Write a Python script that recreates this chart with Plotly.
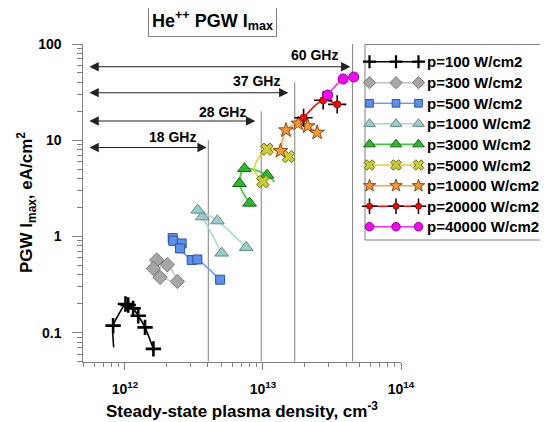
import numpy as np
import plotly.graph_objects as go

W, H = 548, 422
OFF = 8  # page body margin offset of the rendered figure
FONT = "Liberation Sans, Arial, sans-serif"

# ---------------- data ----------------
series_names = ["p=100 W/cm2", "p=300 W/cm2", "p=500 W/cm2", "p=1000 W/cm2",
                "p=3000 W/cm2", "p=5000 W/cm2", "p=10000 W/cm2", "p=20000 W/cm2",
                "p=40000 W/cm2"]

p100_x = [8.22e11, 1.01e12, 1.057e12, 1.148e12, 1.25e12, 1.40e12, 1.61e12]
p100_y = [0.1185, 0.199, 0.194, 0.179, 0.150, 0.1137, 0.068]
p100_head_x = [8.3e11]
p100_head_y = [0.0706]

p300_x = [1.80e12, 2.40e12, 2.03e12, 1.70e12, 1.61e12]
p300_y = [0.376, 0.341, 0.508, 0.569, 0.466]

p500_x = [2.22e12, 2.24e12, 2.58e12, 2.51e12, 3.05e12, 3.35e12, 4.90e12]
p500_y = [0.962, 0.902, 0.846, 0.751, 0.569, 0.577, 0.356]

p1000_x = [5.03e12, 3.64e12, 3.37e12, 4.68e12, 7.56e12]
p1000_y = [0.673, 1.60, 1.88, 1.455, 0.769]

p3000_x = [8.0e12, 6.76e12, 7.35e12, 1.07e13]
p3000_y = [2.22, 3.55, 5.07, 4.34]
p3000_tail_x = [1.21e13]
p3000_tail_y = [3.69]

p5000_x = [1.0e13, 1.07e13, 1.53e13]
p5000_y = [3.72, 8.07, 6.76]
p5000_bend_x = [8.65e12]
p5000_bend_y = [5.0]

p10000_x = [1.34e13, 1.47e13, 1.80e13, 2.11e13, 2.47e13]
p10000_y = [7.74, 12.7, 14.9, 14.0, 12.0]

p20000_x = [1.97e13, 2.73e13, 3.45e13]
p20000_y = [17.1, 26.0, 23.6]

p40000_x = [2.94e13, 3.81e13, 4.55e13]
p40000_y = [29.5, 43.3, 45.4]

# cutoff (critical) densities and their frequency labels
freq_labels = ["18 GHz", "28 GHz", "37 GHz", "60 GHz"]
crit_density = [4.02e12, 9.72e12, 1.70e13, 4.46e13]
crit_line_top = [10, 20, 40, 100]
arrow_left = [5.4e11, 5.4e11, 5.4e11, 5.4e11]
arrow_right = [3.92e12, 8.8e12, 1.53e13, 4.3e13]
arrow_y = [8.4, 15.85, 31.2, 58]
label_x = [2.23e12, 5.12e12, 9.04e12, 2.36e13]
label_y = [10.8, 19.8, 41.2, 76.7]

x_tick_vals = [1e12, 1e13, 1e14]
x_tick_text = ["10<sup>12</sup>", "10<sup>13</sup>", "10<sup>14</sup>"]
y_tick_vals = [0.1, 1, 10, 100]
y_tick_text = ["0.1", "1", "10", "100"]

# ---------------- styles ----------------
styles = [
    dict(line="#000000", lw=1.6, sym="cross-thin", size=11, fill="#000000", edge="#000000", ew=2.6, sm=0.5),
    dict(line="#c4c4c4", lw=1.5, sym="diamond", size=11, fill="#a6a6a6", edge="#777777", ew=1, sm=0.8),
    dict(line="#6d9ef2", lw=1.6, sym="square", size=9, fill="#5b8ff0", edge="#2f5597", ew=1, sm=0.5),
    dict(line="#a9d6d6", lw=1.6, sym="triangle-up", size=12, fill="#9ccccc", edge="#5c8a8a", ew=1, sm=0.9),
    dict(line="#33cc33", lw=1.6, sym="triangle-up", size=12, fill="#2db82d", edge="#146614", ew=1, sm=0.9),
    dict(line="#d6d633", lw=1.6, sym="x", size=11, fill="#cccc33", edge="#6e6e14", ew=1, sm=0.9),
    dict(line="#ffa04d", lw=1.6, sym="star", size=11, fill="#ff9933", edge="#8b4513", ew=1, sm=0.8),
    dict(line="#ff0000", lw=1.6, sym="circle", size=7, fill="#ff0000", edge="#990000", ew=1, sm=0.9),
    dict(line="#ff33e0", lw=1.6, sym="circle", size=10, fill="#ff00ff", edge="#8b008b", ew=1, sm=0.9),
]

fig = go.Figure()

# critical-density vertical lines
vx, vy = [], []
for nc, top in zip(crit_density, crit_line_top):
    vx += [nc, nc, None]
    vy += [0.05, top, None]
fig.add_trace(go.Scatter(x=vx, y=vy, mode="lines", line=dict(color="#808080", width=1),
                         hoverinfo="skip", showlegend=False))

line_paths = [
    (p100_head_x + p100_x, p100_head_y + p100_y),
    (p300_x, p300_y),
    (p500_x, p500_y),
    (p1000_x, p1000_y),
    (p3000_x + p3000_tail_x, p3000_y + p3000_tail_y),
    (p5000_x[:1] + p5000_bend_x + p5000_x[1:], p5000_y[:1] + p5000_bend_y + p5000_y[1:]),
    (p10000_x, p10000_y),
    (p20000_x, p20000_y),
    (p40000_x, p40000_y),
]
marker_pts = [(p100_x, p100_y), (p300_x, p300_y), (p500_x, p500_y), (p1000_x, p1000_y),
              (p3000_x, p3000_y), (p5000_x, p5000_y), (p10000_x, p10000_y),
              (p20000_x, p20000_y), (p40000_x, p40000_y)]

for i, (name, st) in enumerate(zip(series_names, styles)):
    lx, ly = line_paths[i]
    fig.add_trace(go.Scatter(x=lx, y=ly, mode="lines",
                             line=dict(color=st["line"], width=st["lw"], shape="spline",
                                       smoothing=st["sm"]),
                             showlegend=False, hoverinfo="skip"))
    mx, my = marker_pts[i]
    if i == 7:
        fig.add_trace(go.Scatter(x=mx, y=my, mode="markers", showlegend=False,
                                 marker=dict(symbol="cross-thin", size=13,
                                             line=dict(color="#000000", width=1.6))))
    fig.add_trace(go.Scatter(x=mx, y=my, mode="markers", name=name, showlegend=False,
                             marker=dict(symbol=st["sym"], size=st["size"], color=st["fill"],
                                         line=dict(color=st["edge"], width=st["ew"]))))

# ---------------- custom legend (pixel overlay axes, screenshot coordinates) ----------------
leg_sample_x = [369.5, 396, 418.5]
leg_rows_y = [61.7, 82.7, 103.3, 123.8, 144.3, 165, 185.7, 206.2, 226.7]
for i, (name, st) in enumerate(zip(series_names, styles)):
    yy = [leg_rows_y[i]] * 3
    fig.add_trace(go.Scatter(x=leg_sample_x, y=yy, xaxis="x2", yaxis="y2", mode="lines",
                             line=dict(color=st["line"], width=st["lw"]), showlegend=False,
                             hoverinfo="skip"))
    if i == 7:
        fig.add_trace(go.Scatter(x=leg_sample_x, y=yy, xaxis="x2", yaxis="y2", mode="markers",
                                 marker=dict(symbol="cross-thin", size=11,
                                             line=dict(color="#000000", width=1.5)),
                                 showlegend=False, hoverinfo="skip"))
    fig.add_trace(go.Scatter(x=leg_sample_x, y=yy, xaxis="x2", yaxis="y2", mode="markers",
                             marker=dict(symbol=st["sym"], size=st["size"] * 0.85, color=st["fill"],
                                         line=dict(color=st["edge"], width=min(st["ew"], 2.2))),
                             showlegend=False, hoverinfo="skip"))

annotations = []
for i, name in enumerate(series_names):
    annotations.append(dict(x=425, y=leg_rows_y[i], xref="x2", yref="y2", text=name,
                            showarrow=False, xanchor="left", yanchor="middle",
                            font=dict(family=FONT, size=15, color="#000000", weight="bold")))

# arrows + frequency labels
for i in range(len(freq_labels)):
    annotations.append(dict(x=np.log10(arrow_right[i]), y=np.log10(arrow_y[i]),
                            ax=np.log10(arrow_left[i]), ay=np.log10(arrow_y[i]),
                            xref="x", yref="y", axref="x", ayref="y", text="",
                            showarrow=True, arrowside="end+start", arrowhead=2, startarrowhead=2,
                            arrowsize=1.7, startarrowsize=1.7, arrowwidth=1.1,
                            arrowcolor="#222222", standoff=0, startstandoff=0))
    annotations.append(dict(x=np.log10(label_x[i]), y=np.log10(label_y[i]), xref="x", yref="y",
                            text=freq_labels[i], showarrow=False, xanchor="center", yanchor="middle",
                            font=dict(family=FONT, size=14, color="#000000", weight="bold")))

# title box
annotations.append(dict(x=212.5, y=20, xref="x2", yref="y2",
                        text="He<sup>++</sup> PGW I<sub>max</sub>", showarrow=False,
                        xanchor="center", yanchor="middle", bordercolor="#808080", borderwidth=1,
                        borderpad=3, bgcolor="#ffffff",
                        font=dict(family=FONT, size=18, color="#000000", weight="bold")))
# axis titles
annotations.append(dict(x=241.5, y=410, xref="x2", yref="y2",
                        text="Steady-state plasma density, cm<sup>-3</sup>", showarrow=False,
                        xanchor="center", yanchor="middle",
                        font=dict(family=FONT, size=17, color="#000000", weight="bold")))
annotations.append(dict(x=26, y=203, xref="x2", yref="y2", textangle=-90,
                        text="PGW I<sub>max</sub>, eA/cm<sup>2</sup>", showarrow=False,
                        xanchor="center", yanchor="middle",
                        font=dict(family=FONT, size=17, color="#000000", weight="bold")))

shapes = [dict(type="rect", xref="x2", yref="y2", x0=365, x1=547, y0=44.5, y1=240,
               line=dict(color="#808080", width=1), fillcolor="rgba(255,255,255,0)", layer="below")]

def minor_vals(lo_exp, hi_exp):
    out = []
    for e in range(lo_exp, hi_exp):
        for m in range(2, 10):
            out.append(m * 10.0 ** e)
    return out

x_minor = [v for v in minor_vals(11, 14) if v >= 5e11]
y_minor = [v for v in minor_vals(-2, 2) if v >= 0.05]

# plot area in screenshot pixels
PX0, PX1, PY0, PY1 = 83.3, 401.0, 44.0, 361.7

fig.update_layout(
    width=W, height=H,
    margin=dict(l=0, r=0, t=0, b=0, autoexpand=False),
    paper_bgcolor="#ffffff", plot_bgcolor="rgba(0,0,0,0)",
    showlegend=False,
    xaxis=dict(type="log", domain=[(PX0 - OFF) / W, (PX1 - OFF) / W], range=[np.log10(5e11), 14],
               showgrid=False, zeroline=False, showline=True, linecolor="#808080", linewidth=1,
               ticks="outside", ticklen=7, tickcolor="#808080", tickwidth=1,
               tickvals=x_tick_vals, ticktext=x_tick_text, ticklabelstandoff=7,
               tickfont=dict(family=FONT, size=14, color="#000000", weight="bold"),
               minor=dict(tickvals=x_minor, ticks="outside", ticklen=4, tickcolor="#808080",
                          showgrid=False),
               anchor="y", automargin=False),
    yaxis=dict(type="log", domain=[1 - (PY1 - OFF) / H, 1 - (PY0 - OFF) / H],
               range=[np.log10(0.05), 2],
               showgrid=False, zeroline=False, showline=True, linecolor="#808080", linewidth=1,
               ticks="outside", ticklen=10, tickcolor="#808080", tickwidth=1,
               tickvals=y_tick_vals, ticktext=y_tick_text, ticklabelstandoff=8,
               tickfont=dict(family=FONT, size=14, color="#000000", weight="bold"),
               minor=dict(tickvals=y_minor, ticks="outside", ticklen=5, tickcolor="#808080",
                          showgrid=False),
               anchor="x", automargin=False),
    xaxis2=dict(domain=[0, 1], range=[OFF, W + OFF], visible=False, anchor="y2", fixedrange=True),
    yaxis2=dict(domain=[0, 1], range=[H + OFF, OFF], visible=False, anchor="x2", fixedrange=True),
    annotations=annotations,
    shapes=shapes,
)

fig.write_html("out.html")
